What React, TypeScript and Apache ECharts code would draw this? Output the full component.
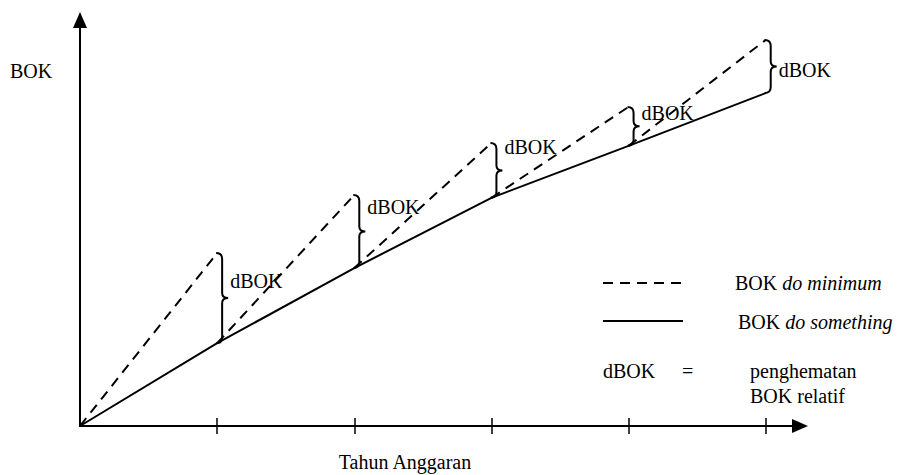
import React, { useEffect, useRef } from "react";
import * as echarts from "echarts";

// Tahun anggaran (years after start)
const years = [0, 1, 2, 3, 4, 5];
// BOK "do something" (solid line), relative units
const bokDoSomething = [0, 20.4, 38.9, 56.2, 69.0, 82.0];
// BOK "do minimum" reached at the end of each year (dashed segments' tops)
const bokDoMinimum = [42.6, 56.9, 69.7, 78.6, 95.1];
// Level (in BOK units) where each "dBOK" annotation sits
const dbokLabelLevel = [35.7, 53.9, 68.7, 77.1, 87.7];
// Tick positions on the year axis
const yearTicks = [1, 2, 3, 4, 5];

const FAMILY = "Liberation Serif";

const txt = (extra: any) => ({ fontFamily: FAMILY, fontSize: 20, fill: "#000", ...extra });

export default function App() {
  const ref = useRef<HTMLDivElement>(null);

  useEffect(() => {
    if (!ref.current) return;
    const chart = echarts.init(ref.current, undefined, { renderer: "svg" });

    const dashedSegments = bokDoMinimum.map((v, i) => ({
      coords: [
        [years[i], bokDoSomething[i]],
        [years[i + 1], v],
      ],
    }));

    const braceData = bokDoMinimum.map((v, i) => [
      years[i + 1],
      v,
      bokDoSomething[i + 1],
      dbokLabelLevel[i],
    ]);

    const option: any = {
      animation: false,
      backgroundColor: "#ffffff",
      textStyle: { fontFamily: FAMILY },
      grid: { left: 80, right: 107, top: 20, bottom: 49, containLabel: false, outerBoundsMode: "none" },
      xAxis: [
        {
          type: "value",
          min: 0,
          max: 5.25,
          interval: 1,
          axisLine: {
            show: true,
            onZero: false,
            symbol: ["none", "triangle"],
            symbolSize: [14, 16],
            lineStyle: { color: "#000", width: 2 },
          },
          axisTick: {
            show: true,
            inside: true,
            length: 8,
            customValues: yearTicks,
            lineStyle: { color: "#000", width: 1.5 },
          },
          axisLabel: { show: false },
          splitLine: { show: false },
        },
        {
          type: "value",
          min: 0,
          max: 5.25,
          interval: 1,
          position: "bottom",
          axisLine: { show: false },
          axisTick: {
            show: true,
            inside: false,
            length: 8,
            customValues: yearTicks,
            lineStyle: { color: "#000", width: 1.5 },
          },
          axisLabel: { show: false },
          splitLine: { show: false },
        },
      ],
      yAxis: {
        type: "value",
        min: 0,
        max: 100,
        axisLine: {
          show: true,
          onZero: false,
          symbol: ["none", "triangle"],
          symbolSize: [14, 16],
          lineStyle: { color: "#000", width: 2 },
        },
        axisTick: { show: false },
        axisLabel: { show: false },
        splitLine: { show: false },
      },
      series: [
        {
          type: "line",
          name: "BOK do something",
          xAxisIndex: 0,
          data: years.map((x, i) => [x, bokDoSomething[i]]),
          symbol: "none",
          lineStyle: { color: "#000", width: 2 },
          z: 3,
        },
        {
          type: "lines",
          name: "BOK do minimum",
          coordinateSystem: "cartesian2d",
          xAxisIndex: 0,
          data: dashedSegments,
          lineStyle: { color: "#000", width: 2, type: [10, 7], opacity: 1 },
          z: 3,
        },
        {
          type: "custom",
          name: "dBOK",
          xAxisIndex: 0,
          data: braceData,
          renderItem: (_params: any, api: any) => {
            const top = api.coord([api.value(0), api.value(1)]);
            const bot = api.coord([api.value(0), api.value(2)]);
            const lab = api.coord([api.value(0), api.value(3)]);
            const x = top[0] - 1;
            const yt = top[1];
            const yb = bot[1];
            const ym = (yt + yb) / 2;
            const xv = x + 6;
            const xt = x + 12;
            const d =
              `M ${x} ${yt} Q ${xv} ${yt} ${xv} ${yt + 6} ` +
              `L ${xv} ${ym - 5} Q ${xv} ${ym} ${xt} ${ym} ` +
              `Q ${xv} ${ym} ${xv} ${ym + 5} L ${xv} ${yb - 6} ` +
              `Q ${xv} ${yb} ${x} ${yb}`;
            return {
              type: "group",
              children: [
                {
                  type: "path",
                  shape: { pathData: d },
                  style: { stroke: "#000", lineWidth: 2, fill: "none" },
                },
                {
                  type: "text",
                  x: x + 14,
                  y: lab[1],
                  style: txt({ text: "dBOK", verticalAlign: "middle", align: "left" }),
                },
              ],
            };
          },
          z: 4,
        },
      ],
      graphic: [
        {
          type: "text",
          x: 10,
          y: 71,
          style: txt({ text: "BOK", verticalAlign: "middle" }),
        },
        {
          type: "text",
          x: 405,
          y: 462,
          style: txt({ text: "Tahun Anggaran", align: "center", verticalAlign: "middle" }),
        },
        {
          type: "line",
          shape: { x1: 603, y1: 283, x2: 682, y2: 283 },
          style: { stroke: "#000", lineWidth: 2, lineDash: [10, 7] },
        },
        {
          type: "text",
          x: 735,
          y: 283,
          style: {
            text: "{n|BOK }{i|do minimum}",
            verticalAlign: "middle",
            rich: {
              n: { fontFamily: FAMILY, fontSize: 20, fill: "#000" },
              i: { fontFamily: FAMILY, fontSize: 20, fontStyle: "italic", fill: "#000" },
            },
          },
        },
        {
          type: "line",
          shape: { x1: 603, y1: 321, x2: 683, y2: 321 },
          style: { stroke: "#000", lineWidth: 2 },
        },
        {
          type: "text",
          x: 738,
          y: 322,
          style: {
            text: "{n|BOK }{i|do something}",
            verticalAlign: "middle",
            rich: {
              n: { fontFamily: FAMILY, fontSize: 20, fill: "#000" },
              i: { fontFamily: FAMILY, fontSize: 20, fontStyle: "italic", fill: "#000" },
            },
          },
        },
        {
          type: "text",
          x: 603,
          y: 371,
          style: txt({ text: "dBOK", verticalAlign: "middle" }),
        },
        {
          type: "text",
          x: 682,
          y: 371,
          style: txt({ text: "=", verticalAlign: "middle" }),
        },
        {
          type: "text",
          x: 750,
          y: 371,
          style: txt({ text: "penghematan", verticalAlign: "middle" }),
        },
        {
          type: "text",
          x: 750,
          y: 396,
          style: txt({ text: "BOK relatif", verticalAlign: "middle" }),
        },
      ],
    };

    chart.setOption(option);
    return () => chart.dispose();
  }, []);

  return (
    <div
      ref={ref}
      style={{ position: "fixed", left: 0, top: 0, width: 907, height: 475, background: "#fff" }}
    />
  );
}
